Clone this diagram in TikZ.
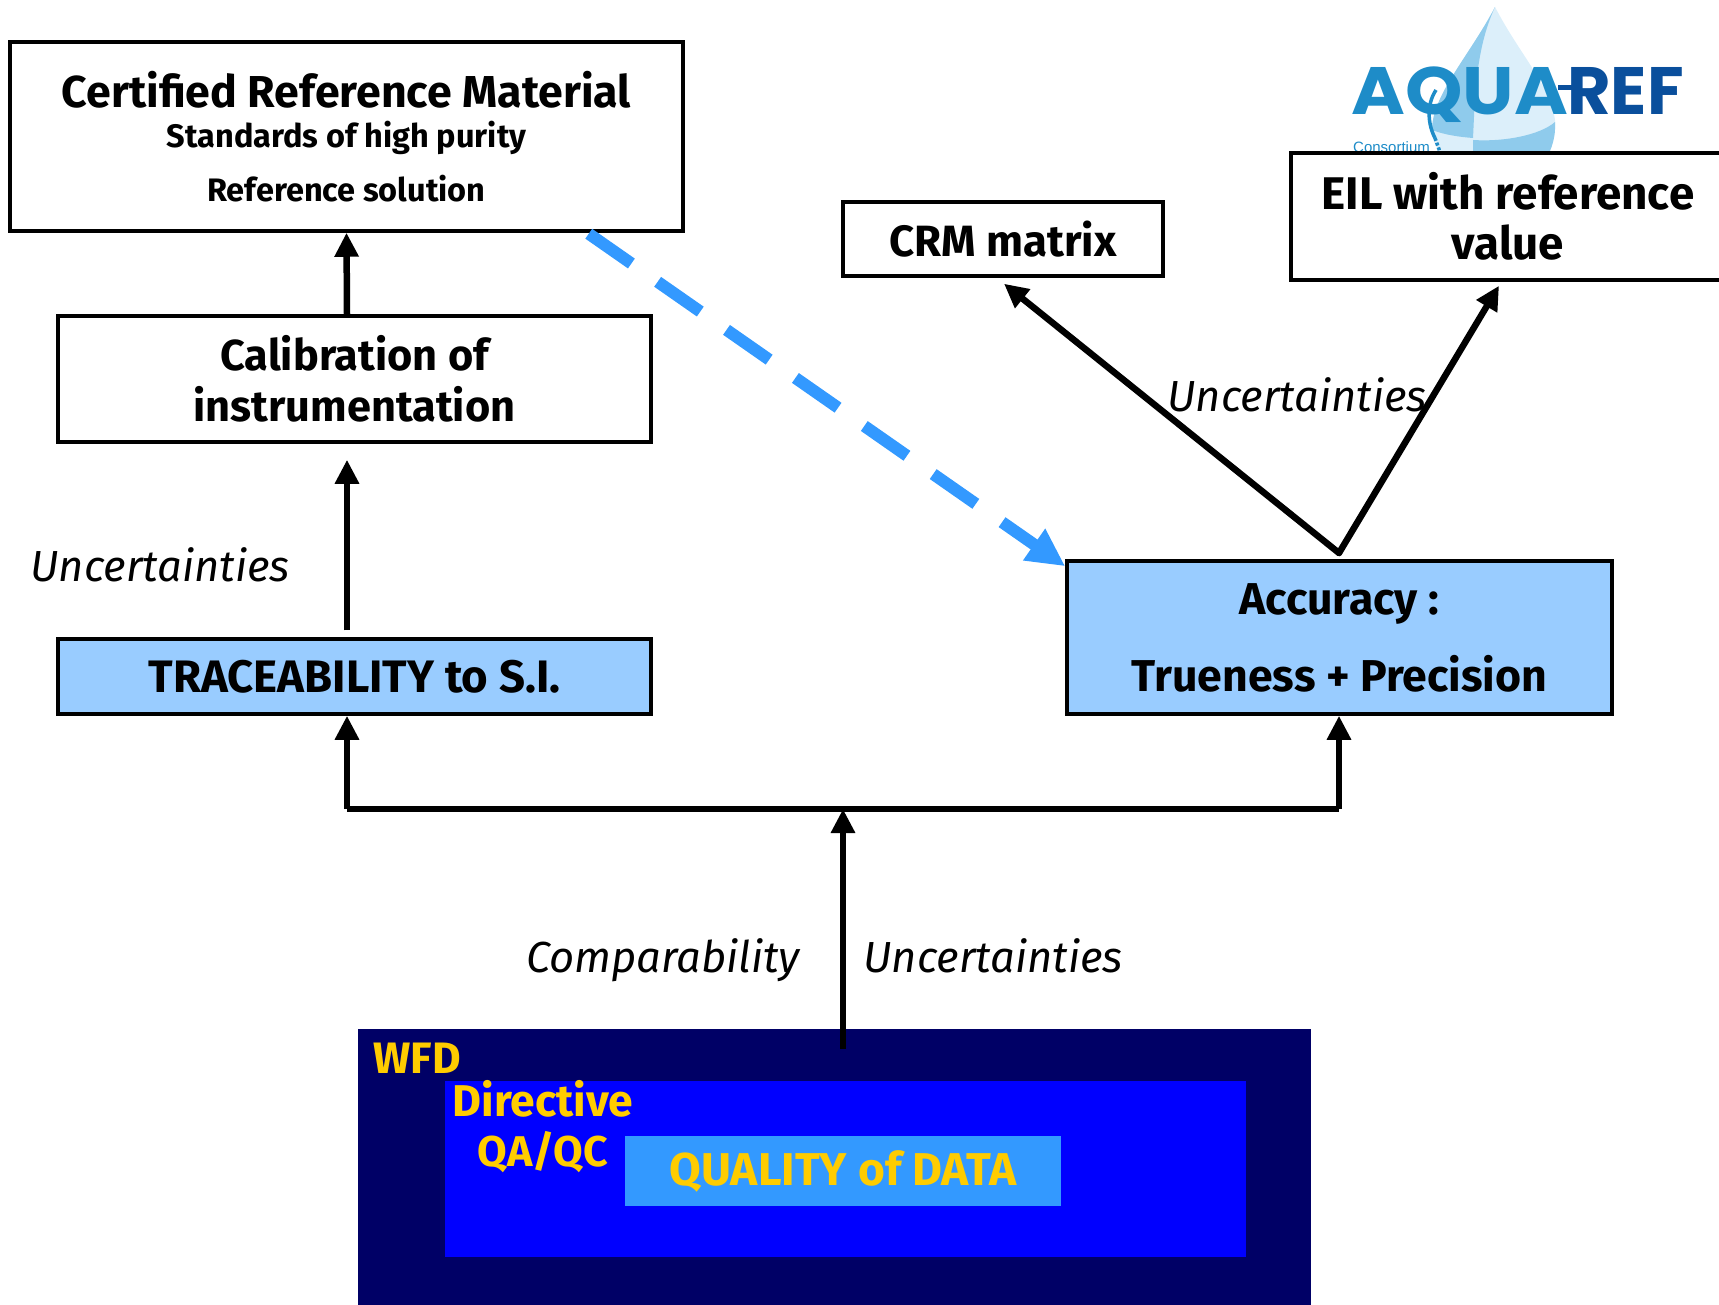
\documentclass[tikz,border=0pt]{standalone}
\usepackage{fontspec}
\usepackage{graphicx}
\setmainfont{Fira Sans}
\newfontfamily\logofont{Poppins}
\newfontfamily\smallfont{Liberation Sans}
\usetikzlibrary{arrows.meta}
\definecolor{navyc}{HTML}{000066}
\definecolor{bluec}{HTML}{0000FF}
\definecolor{skyc}{HTML}{3399FF}
\definecolor{palec}{HTML}{99CCFF}
\definecolor{goldc}{HTML}{FFCC00}
\definecolor{logoa}{HTML}{1E8CC8}
\definecolor{logob}{HTML}{0A4F9C}
\definecolor{dropa}{HTML}{8FCBEC}
\definecolor{dropb}{HTML}{DCEFFA}
\newcommand{\fs}[2]{\fontsize{#1}{#2}\selectfont}
\tikzset{
  x=1pt,y=-1pt,
  boxn/.style={draw=black,line width=3.5pt,fill=white,inner sep=0pt,align=center,text=black},
  fillbox/.style={boxn,fill=palec},
  lab/.style={font=\itshape\fs{43.5}{50},text=black,inner sep=0pt,anchor=base},
  gold/.style={font=\bfseries\fs{44}{50},text=goldc,inner sep=0pt,anchor=base},
  arrow/.style={line width=6.5pt,-{Triangle[length=24pt,width=23pt]},black},
  wire/.style={line width=6.5pt,black},
  dashedarrow/.style={line width=12pt,skyc,dash pattern=on 52pt off 32pt,-{Triangle[length=38pt,width=36pt]}},
}
\begin{document}
\begin{tikzpicture}
\useasboundingbox (0,0) rectangle (1719,1305);
% logo
\fill[dropb] (1495,7) .. controls (1470,55) and (1432,95) .. (1432,130) .. controls (1432,145) and (1440,153) .. (1450,160) -- (1545,160) .. controls (1552,150) and (1556,135) .. (1555,120) .. controls (1550,85) and (1520,55) .. (1495,7) -- cycle;
\fill[dropa] (1495,7) .. controls (1470,55) and (1432,95) .. (1432,130) .. controls (1445,135) and (1460,137) .. (1473,138) .. controls (1475,100) and (1475,50) .. (1495,7) -- cycle;
\fill[dropa] (1473,140) .. controls (1505,142) and (1540,135) .. (1555,122) .. controls (1556,135) and (1552,150) .. (1545,160) -- (1473,160) -- cycle;
\node[inner sep=0pt,anchor=base west,text=logoa,font=\logofont\bfseries\fs{67}{67}] (logoAqua) at (1351,115) {\scalebox{1.09}[1]{AQUA}};
\node[inner sep=0pt,anchor=base east,text=logob,font=\logofont\bfseries\fs{67}{67}] (logoRef) at (1684,115) {REF};
\node[inner sep=0pt,anchor=base west,text=logoa,font=\smallfont\fs{15}{15}] (logoCons) at (1353,153) {Consortium};
\fill[logob] (1558,85) rectangle (1575,90);
\draw[logoa,line width=3.5pt] (1436,90) .. controls (1426,105) and (1428,125) .. (1435,138);
\draw[logoa,line width=3.5pt,dash pattern=on 3pt off 2pt] (1435,138) -- (1440,152);
% WFD block
\node[fill=navyc,minimum width=953pt,minimum height=276pt,inner sep=0pt] (wfd) at (834.5,1167) {};
\node[fill=bluec,minimum width=801pt,minimum height=176pt,inner sep=0pt] (dir) at (845.5,1169) {};
\node[fill=skyc,minimum width=436pt,minimum height=70pt,inner sep=0pt,text=goldc,font=\bfseries\fs{46}{50}] (qual) at (843,1171) {QUALITY of DATA};
\node[gold] (wfdt) at (417,1073) {WFD};
\node[gold,font=\bfseries\fs{44.5}{50}] (dirt) at (543,1116) {Directive};
\node[gold,font=\bfseries\fs{43}{50}] (qaqc) at (543,1166) {QA/QC};
% boxes
\node[boxn,font=\bfseries,minimum width=673pt,minimum height=189pt] (cert) at (346.5,136.5) {\fs{44.7}{50}Certified Reference Material\\[12pt]\fs{32.5}{38}Standards of high purity\\[19pt]\fs{32.5}{38}Reference solution};
\node[boxn,font=\bfseries\fs{43.3}{51.5},minimum width=593pt,minimum height=126pt] (cal) at (354.5,379) {Calibration of\\instrumentation};
\node[fillbox,font=\bfseries\fs{45.5}{50},minimum width=593pt,minimum height=75pt] (tr) at (354.5,676.5) {TRACEABILITY to S.I.};
\node[boxn,font=\bfseries\fs{43.8}{50},minimum width=320pt,minimum height=74pt] (crm) at (1003,239) {CRM matrix};
\node[boxn,font=\bfseries\fs{45.8}{50},minimum width=434pt,minimum height=127pt] (eil) at (1508,216.5) {EIL with reference\\value};
\node[fillbox,font=\bfseries\fs{44.6}{50},minimum width=545pt,minimum height=153pt] (acc) at (1339.5,637.5) {Accuracy :\\[27pt]Trueness + Precision};
% junctions
\coordinate (busL) at (347,809);
\coordinate (busM) at (843,809);
\coordinate (busR) at (1339,809);
\coordinate (apex) at (1339,553);
% connectors
\draw[arrow] ([xshift=-7.5pt]cal.north) -- (cert.south);
\draw[arrow] ([xshift=-7.5pt,yshift=7pt]tr.north) -- ([xshift=-7.5pt,yshift=-16pt]cal.south);
\draw[wire] (busL) -- (busR);
\draw[arrow] (busL) -- ([xshift=-7.5pt]tr.south);
\draw[arrow] (busR) -- ([xshift=-0.5pt]acc.south);
\draw[arrow] ([xshift=8.5pt,yshift=-20pt]wfd.north) -- (busM);
\draw[dashedarrow] ([xshift=-96pt,yshift=-1pt]cert.south east) -- ([yshift=-7pt]acc.north west);
\draw[arrow,line cap=round] (apex) -- ([xshift=1pt,yshift=-6pt]crm.south);
\draw[arrow,line cap=round] (apex) -- ([xshift=-9pt,yshift=-4pt]eil.south);
% labels
\node[lab] (u1) at (160,581) {Uncertainties};
\node[lab] (u2) at (1297,412) {Uncertainties};
\node[lab] (u3) at (993,972) {Uncertainties};
\node[lab] (comp) at (663,972) {Comparability};
\end{tikzpicture}
\end{document}
